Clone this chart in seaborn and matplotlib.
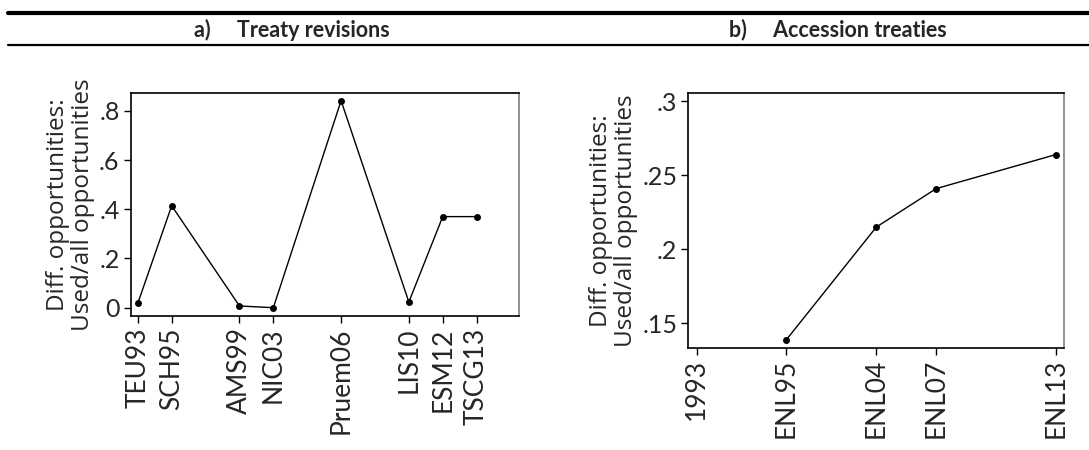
import matplotlib
matplotlib.use("Agg")
import matplotlib.pyplot as plt
from matplotlib.lines import Line2D
import seaborn as sns
import pandas as pd

# ---- data ----
rev_labels = ["TEU93", "SCH95", "AMS99", "NIC03", "Pruem06", "LIS10", "ESM12", "TSCG13"]
rev_pos = [1, 2, 4, 5, 7, 9, 10, 11]          # chronological treaty index
rev_values = [0.018, 0.414, 0.007, 0.0, 0.841, 0.023, 0.370, 0.370]

acc_tick_labels = ["1993", "ENL95", "ENL04", "ENL07", "ENL13"]
acc_tick_pos = [0, 3, 6, 8, 12]
acc_labels = ["ENL95", "ENL04", "ENL07", "ENL13"]
acc_pos = [3, 6, 8, 12]
acc_values = [0.139, 0.215, 0.241, 0.264]

a_yticks = [0, 0.2, 0.4, 0.6, 0.8]
a_yticklabels = ["0", ".2", ".4", ".6", ".8"]
b_yticks = [0.15, 0.2, 0.25, 0.3]
b_yticklabels = [".15", ".2", ".25", ".3"]

ylabel = "Diff. opportunities:\nUsed/all opportunities"

sns.set_style("ticks")
plt.rcParams["font.family"] = ["Lato", "DejaVu Sans"]

W, H = 1089, 450
fig = plt.figure(figsize=(W / 100, H / 100), dpi=100)

def px_axes(l, t, r, b):
    return fig.add_axes([l / W, 1 - b / H, (r - l) / W, (b - t) / H])

ax1 = px_axes(130.7, 93.3, 519.3, 316.3)
ax2 = px_axes(688.3, 93.3, 1064, 347.7)

df_a = pd.DataFrame({"pos": rev_pos, "val": rev_values})
df_b = pd.DataFrame({"pos": acc_pos, "val": acc_values})

for ax, df in ((ax1, df_a), (ax2, df_b)):
    sns.lineplot(data=df, x="pos", y="val", ax=ax, color="black", linewidth=1,
                 marker="o", markersize=5, markeredgewidth=0, markerfacecolor="black")
    ax.set_xlabel("")
    ax.set_ylabel(ylabel, fontsize=17.5, labelpad=3, linespacing=1.03,
                  family=["Open Sans", "DejaVu Sans"])
    for s in ax.spines.values():
        s.set_visible(True)
        s.set_linewidth(1.2)
        s.set_color("black")
    ax.spines["right"].set_color("#808080")
    ax.tick_params(axis="both", direction="out", length=5, width=1, color="black", pad=3)
    ax.tick_params(axis="x", labelrotation=90, labelsize=19)
    ax.tick_params(axis="y", labelsize=18)

ax1.set_xlim(0.79, 12.26)
ax1.set_ylim(-0.035, 0.871)
ax1.set_xticks(rev_pos)
ax1.set_xticklabels(rev_labels)
ax1.set_yticks(a_yticks)
ax1.set_yticklabels(a_yticklabels)

ax2.set_xlim(-0.28, 12.27)
ax2.set_ylim(0.1335, 0.3054)
ax2.set_xticks(acc_tick_pos)
ax2.set_xticklabels(acc_tick_labels)
ax2.set_yticks(b_yticks)
ax2.set_yticklabels(b_yticklabels)

# header rules
fig.add_artist(Line2D([8 / W, 1], [1 - 13 / H, 1 - 13 / H], color="black", linewidth=3))
fig.add_artist(Line2D([8 / W, 1], [1 - 44.5 / H, 1 - 44.5 / H], color="black", linewidth=1.6))

fig.text(292 / W, 1 - 29.5 / H, "a)     Treaty revisions", ha="center", va="center",
         fontsize=15.5, fontweight="bold")
fig.text(838 / W, 1 - 29.5 / H, "b)     Accession treaties", ha="center", va="center",
         fontsize=15.5, fontweight="bold")

fig.savefig("out.png", dpi=100)
